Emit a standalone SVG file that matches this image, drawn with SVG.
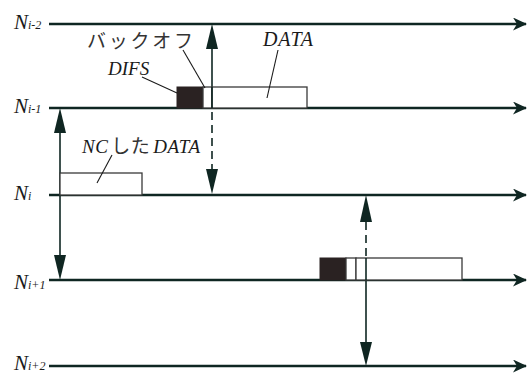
<svg xmlns="http://www.w3.org/2000/svg" width="530" height="374" viewBox="0 0 530 374">
<defs>
<style>
.ln{stroke:#0f2622;stroke-width:2.6;fill:none}
.va{stroke:#0f2622;stroke-width:1.6;fill:none}
.dash{stroke-dasharray:8,5}
.ah{fill:#0f2622}
.box{fill:#fff;stroke:#3a3a3a;stroke-width:1.3}
.blk{fill:#2a2222;stroke:#2a2222;stroke-width:1}
.lead{stroke:#1a1a1a;stroke-width:1.1;fill:none}
</style>
<marker id="hA" viewBox="0 0 14 13" refX="13" refY="6.5" markerWidth="14" markerHeight="13" markerUnits="userSpaceOnUse" orient="auto">
<path d="M14,6.5 L0,0 L4,6.5 L0,13 Z" class="ah"/>
</marker>
</defs>
<rect width="530" height="374" fill="#fff"/>
<g id="connectors">
<line class="ln" x1="49" y1="24" x2="526" y2="24" marker-end="url(#hA)"/>
<line class="ln" x1="49" y1="108" x2="526" y2="108" marker-end="url(#hA)"/>
<line class="ln" x1="49" y1="195" x2="526" y2="195" marker-end="url(#hA)"/>
<line class="ln" x1="49" y1="280" x2="526" y2="280" marker-end="url(#hA)"/>
<line class="ln" x1="49" y1="366" x2="526" y2="366" marker-end="url(#hA)"/>
<line class="va" x1="60" y1="130" x2="60" y2="258"/>
<path class="ah" d="M60,108 L66,133 L54,133 Z"/>
<path class="ah" d="M60,280 L66,255 L54,255 Z"/>
<line class="va" x1="212" y1="46" x2="212" y2="108"/>
<line class="va dash" x1="212" y1="112" x2="212" y2="170"/>
<path class="ah" d="M212,24 L218,49 L206,49 Z"/>
<path class="ah" d="M212,194 L218,169 L206,169 Z"/>
<line class="va dash" x1="366" y1="222" x2="366" y2="280"/>
<line class="va" x1="366" y1="280" x2="366" y2="344"/>
<path class="ah" d="M366,195 L372,222 L360,222 Z"/>
<path class="ah" d="M366,366 L372,342 L360,342 Z"/>
</g>
<g id="ni1-frames">
<rect class="blk" x="177" y="87" width="26" height="21"/>
<rect class="box" x="203" y="87" width="9" height="21"/>
<rect class="box" x="212" y="87" width="95" height="21"/>
<line class="va" x1="212" y1="87" x2="212" y2="108"/>
</g>
<g id="ni-frame">
<rect class="box" x="60" y="173" width="82" height="22"/>
</g>
<g id="ni+1-frames">
<rect class="blk" x="320" y="258" width="26" height="22"/>
<rect class="box" x="346" y="258" width="10" height="22"/>
<rect class="box" x="356" y="258" width="106" height="22"/>
<line class="va" x1="366" y1="258" x2="366" y2="280"/>
</g>
<g id="labels" font-family="Liberation Serif, Times New Roman, serif" font-style="italic" fill="#1a1a1a">
<text x="14" y="29" font-size="21">N<tspan font-size="12">i-2</tspan></text>
<text x="14" y="113" font-size="21">N<tspan font-size="12">i-1</tspan></text>
<text x="14" y="200" font-size="21">N<tspan font-size="12">i</tspan></text>
<text x="14" y="289" font-size="21">N<tspan font-size="12">i+1</tspan></text>
<text x="14" y="370" font-size="21">N<tspan font-size="12">i+2</tspan></text>
</g>
<g id="annotations" font-family="Liberation Serif, Times New Roman, serif" fill="#1a1a1a">
<text x="87" y="48" font-size="19" textLength="106" font-family="Noto Sans CJK JP, sans-serif" fill="#333">バックオフ</text>
<line class="lead" x1="183" y1="50" x2="205" y2="88"/>
<text x="108" y="75" font-size="19" font-style="italic">DIFS</text>
<line class="lead" x1="142" y1="77" x2="177" y2="93"/>
<text x="263" y="46" font-size="20" font-style="italic" textLength="50">DATA</text>
<line class="lead" x1="278" y1="50" x2="267" y2="98"/>
<text x="82" y="153" font-size="19" textLength="118"><tspan font-style="italic">NC</tspan><tspan dx="3" font-family="Noto Sans CJK JP, sans-serif" fill="#333">した</tspan><tspan dx="3" font-style="italic">DATA</tspan></text>
<line class="lead" x1="112" y1="155" x2="97" y2="183"/>
</g>
</svg>
